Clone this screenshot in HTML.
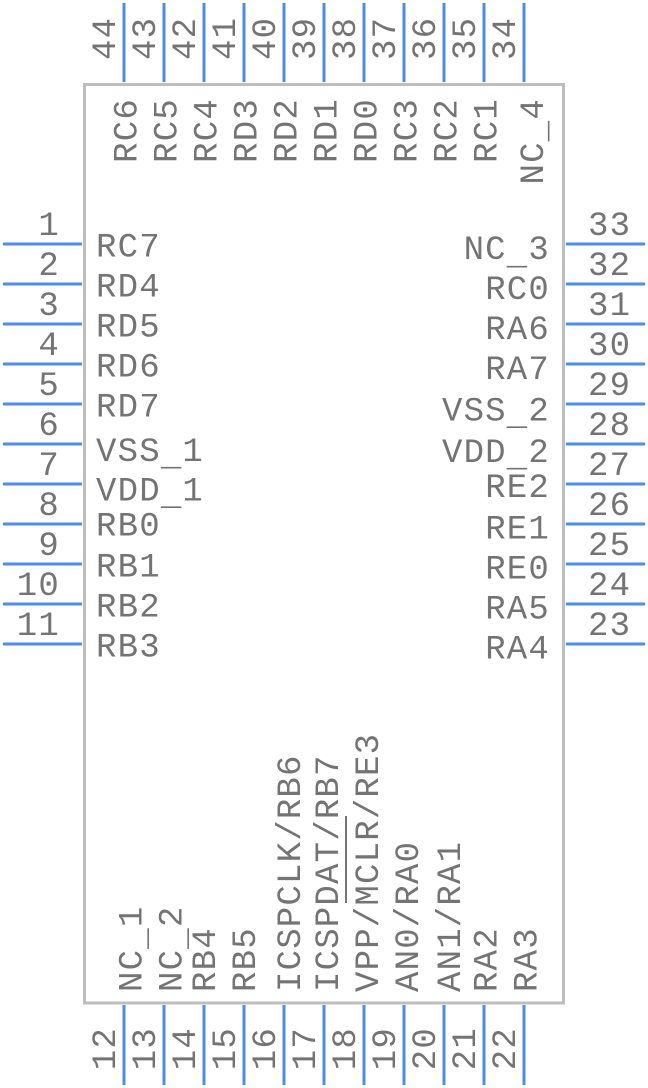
<!DOCTYPE html>
<html>
<head>
<meta charset="utf-8">
<style>
  html,body{margin:0;padding:0;background:#ffffff;}
  svg{display:block;}
  text{font-family:"Liberation Mono","DejaVu Sans Mono",monospace;font-size:34px;letter-spacing:1.2px;fill:#747474;}
  .pin{stroke:#4a8cf0;stroke-width:3;}
  .ov{stroke:#747474;stroke-width:2;}
</style>
</head>
<body>
<svg width="648" height="1088" viewBox="0 0 648 1088" xmlns="http://www.w3.org/2000/svg">
  <!-- body -->
  <rect x="84.5" y="84.5" width="479" height="918.5" fill="none" stroke="#bebebe" stroke-width="3"/>

  <!-- left pins -->
  <g class="pin">
    <line x1="3" y1="244" x2="82" y2="244"/>
    <line x1="3" y1="284" x2="82" y2="284"/>
    <line x1="3" y1="324" x2="82" y2="324"/>
    <line x1="3" y1="364" x2="82" y2="364"/>
    <line x1="3" y1="404" x2="82" y2="404"/>
    <line x1="3" y1="444" x2="82" y2="444"/>
    <line x1="3" y1="484" x2="82" y2="484"/>
    <line x1="3" y1="524" x2="82" y2="524"/>
    <line x1="3" y1="564" x2="82" y2="564"/>
    <line x1="3" y1="604" x2="82" y2="604"/>
    <line x1="3" y1="644" x2="82" y2="644"/>
  </g>
  <!-- right pins -->
  <g class="pin">
    <line x1="566" y1="244" x2="645" y2="244"/>
    <line x1="566" y1="284" x2="645" y2="284"/>
    <line x1="566" y1="324" x2="645" y2="324"/>
    <line x1="566" y1="364" x2="645" y2="364"/>
    <line x1="566" y1="404" x2="645" y2="404"/>
    <line x1="566" y1="444" x2="645" y2="444"/>
    <line x1="566" y1="484" x2="645" y2="484"/>
    <line x1="566" y1="524" x2="645" y2="524"/>
    <line x1="566" y1="564" x2="645" y2="564"/>
    <line x1="566" y1="604" x2="645" y2="604"/>
    <line x1="566" y1="644" x2="645" y2="644"/>
  </g>
  <!-- top pins -->
  <g class="pin">
    <line x1="124" y1="3" x2="124" y2="82"/>
    <line x1="164" y1="3" x2="164" y2="82"/>
    <line x1="204" y1="3" x2="204" y2="82"/>
    <line x1="244" y1="3" x2="244" y2="82"/>
    <line x1="284" y1="3" x2="284" y2="82"/>
    <line x1="324" y1="3" x2="324" y2="82"/>
    <line x1="364" y1="3" x2="364" y2="82"/>
    <line x1="404" y1="3" x2="404" y2="82"/>
    <line x1="444" y1="3" x2="444" y2="82"/>
    <line x1="484" y1="3" x2="484" y2="82"/>
    <line x1="524" y1="3" x2="524" y2="82"/>
  </g>
  <!-- bottom pins -->
  <g class="pin">
    <line x1="124" y1="1005" x2="124" y2="1085"/>
    <line x1="164" y1="1005" x2="164" y2="1085"/>
    <line x1="204" y1="1005" x2="204" y2="1085"/>
    <line x1="244" y1="1005" x2="244" y2="1085"/>
    <line x1="284" y1="1005" x2="284" y2="1085"/>
    <line x1="324" y1="1005" x2="324" y2="1085"/>
    <line x1="364" y1="1005" x2="364" y2="1085"/>
    <line x1="404" y1="1005" x2="404" y2="1085"/>
    <line x1="444" y1="1005" x2="444" y2="1085"/>
    <line x1="484" y1="1005" x2="484" y2="1085"/>
    <line x1="524" y1="1005" x2="524" y2="1085"/>
  </g>

  <!-- left pin numbers -->
  <g text-anchor="end">
    <text x="60" y="235">1</text>
    <text x="60" y="275">2</text>
    <text x="60" y="315">3</text>
    <text x="60" y="355">4</text>
    <text x="60" y="395">5</text>
    <text x="60" y="435">6</text>
    <text x="60" y="475">7</text>
    <text x="60" y="515">8</text>
    <text x="60" y="555">9</text>
    <text x="60" y="595">10</text>
    <text x="60" y="635">11</text>
  </g>
  <!-- left labels -->
  <g>
    <text x="96" y="256.7">RC7</text>
    <text x="96" y="296.7">RD4</text>
    <text x="96" y="336.7">RD5</text>
    <text x="96" y="376.7">RD6</text>
    <text x="96" y="416.7">RD7</text>
    <text x="96" y="461">VSS<tspan dy="4">_</tspan><tspan dy="-4">1</tspan></text>
    <text x="96" y="500.7">VDD<tspan dy="4">_</tspan><tspan dy="-4">1</tspan></text>
    <text x="96" y="535.7">RB0</text>
    <text x="96" y="576.7">RB1</text>
    <text x="96" y="616.7">RB2</text>
    <text x="96" y="656.7">RB3</text>
  </g>

  <!-- right pin numbers -->
  <g>
    <text x="588" y="235">33</text>
    <text x="588" y="275">32</text>
    <text x="588" y="315">31</text>
    <text x="588" y="355">30</text>
    <text x="588" y="395">29</text>
    <text x="588" y="435">28</text>
    <text x="588" y="475">27</text>
    <text x="588" y="515">26</text>
    <text x="588" y="555">25</text>
    <text x="588" y="595">24</text>
    <text x="588" y="635">23</text>
  </g>
  <!-- right labels -->
  <g text-anchor="end">
    <text x="550" y="259">NC<tspan dy="5">_</tspan><tspan dy="-5">3</tspan></text>
    <text x="550" y="299">RC0</text>
    <text x="550" y="339">RA6</text>
    <text x="550" y="379">RA7</text>
    <text x="550" y="420.7">VSS<tspan dy="4">_</tspan><tspan dy="-4">2</tspan></text>
    <text x="550" y="462">VDD<tspan dy="4">_</tspan><tspan dy="-4">2</tspan></text>
    <text x="550" y="497">RE2</text>
    <text x="550" y="538.5">RE1</text>
    <text x="550" y="578.5">RE0</text>
    <text x="550" y="618.5">RA5</text>
    <text x="550" y="658.5">RA4</text>
  </g>

  <!-- top pin numbers (rotated) -->
  <g>
    <text transform="translate(115,60) rotate(-90)">44</text>
    <text transform="translate(155,60) rotate(-90)">43</text>
    <text transform="translate(195,60) rotate(-90)">42</text>
    <text transform="translate(235,60) rotate(-90)">41</text>
    <text transform="translate(275,60) rotate(-90)">40</text>
    <text transform="translate(315,60) rotate(-90)">39</text>
    <text transform="translate(355,60) rotate(-90)">38</text>
    <text transform="translate(395,60) rotate(-90)">37</text>
    <text transform="translate(435,60) rotate(-90)">36</text>
    <text transform="translate(475,60) rotate(-90)">35</text>
    <text transform="translate(515,60) rotate(-90)">34</text>
  </g>
  <!-- top labels (rotated) -->
  <g text-anchor="end">
    <text transform="translate(136.7,98) rotate(-90)">RC6</text>
    <text transform="translate(176.7,98) rotate(-90)">RC5</text>
    <text transform="translate(216.7,98) rotate(-90)">RC4</text>
    <text transform="translate(256.7,98) rotate(-90)">RD3</text>
    <text transform="translate(296.7,98) rotate(-90)">RD2</text>
    <text transform="translate(336.7,98) rotate(-90)">RD1</text>
    <text transform="translate(376.7,98) rotate(-90)">RD0</text>
    <text transform="translate(416.7,98) rotate(-90)">RC3</text>
    <text transform="translate(456.7,98) rotate(-90)">RC2</text>
    <text transform="translate(496.7,98) rotate(-90)">RC1</text>
    <text transform="translate(543,98) rotate(-90)">NC<tspan dy="3">_</tspan><tspan dy="-3">4</tspan></text>
  </g>

  <!-- bottom pin numbers (rotated) -->
  <g text-anchor="end">
    <text transform="translate(115,1027) rotate(-90)">12</text>
    <text transform="translate(155,1027) rotate(-90)">13</text>
    <text transform="translate(195,1027) rotate(-90)">14</text>
    <text transform="translate(235,1027) rotate(-90)">15</text>
    <text transform="translate(275,1027) rotate(-90)">16</text>
    <text transform="translate(315,1027) rotate(-90)">17</text>
    <text transform="translate(355,1027) rotate(-90)">18</text>
    <text transform="translate(395,1027) rotate(-90)">19</text>
    <text transform="translate(435,1027) rotate(-90)">20</text>
    <text transform="translate(475,1027) rotate(-90)">21</text>
    <text transform="translate(515,1027) rotate(-90)">22</text>
  </g>
  <!-- bottom labels (rotated) -->
  <g>
    <text transform="translate(141.7,992) rotate(-90)">NC<tspan dy="4">_</tspan><tspan dy="-4">1</tspan></text>
    <text transform="translate(181.7,992) rotate(-90)">NC<tspan dy="4">_</tspan><tspan dy="-4">2</tspan></text>
    <text transform="translate(215,992) rotate(-90)">RB4</text>
    <text transform="translate(255,992) rotate(-90)">RB5</text>
    <text transform="translate(300,992) rotate(-90)">ICSPCLK/RB6</text>
    <text transform="translate(338,992) rotate(-90)">ICSPDAT/RB7</text>
    <text transform="translate(378,992) rotate(-90)">VPP/MCLR/RE3</text>
    <text transform="translate(418,992) rotate(-90)">AN0/RA0</text>
    <text transform="translate(460,992) rotate(-90)">AN1/RA1</text>
    <text transform="translate(496.7,992) rotate(-90)">RA2</text>
    <text transform="translate(536.7,992) rotate(-90)">RA3</text>
  </g>
  <!-- MCLR overline -->
  <line class="ov" x1="346" y1="816" x2="346" y2="903"/>
</svg>
</body>
</html>
